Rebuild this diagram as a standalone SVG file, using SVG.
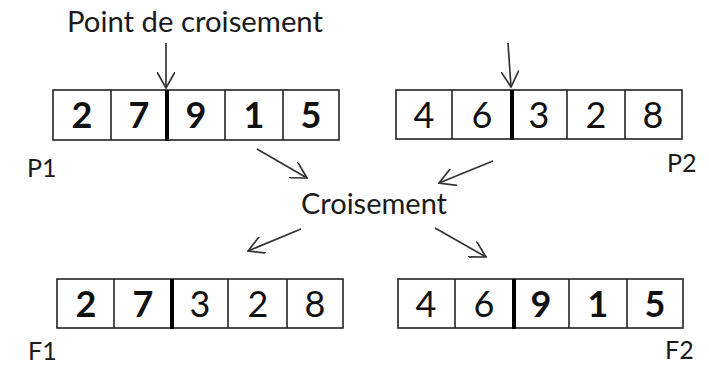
<svg xmlns="http://www.w3.org/2000/svg" width="709" height="366" viewBox="0 0 709 366">
  <style>
    .cell { fill: #ffffff; stroke: #222222; stroke-width: 1.6; }
    .cut { stroke: #000000; stroke-width: 4; }
    .gene { font-family: Lato, "Liberation Sans", sans-serif; font-size: 36px; fill: #111111; text-anchor: middle; }
    .b { font-weight: 700; }
    .lbl { font-family: Lato, "Liberation Sans", sans-serif; font-size: 25px; fill: #1a1a1a; }
    .title { font-family: Lato, "Liberation Sans", sans-serif; font-size: 28px; fill: #1a1a1a; }
    .conn line { stroke: #333333; stroke-width: 1.7; fill: none; marker-end: url(#head); }
  </style>
  <defs>
    <marker id="head" viewBox="0 0 17 18" refX="16" refY="9" markerWidth="17" markerHeight="18" markerUnits="userSpaceOnUse" orient="auto">
      <path d="M0,0 L16,9 L0,18" fill="none" stroke="#333333" stroke-width="1.7"/>
    </marker>
  </defs>

  <rect width="709" height="366" fill="#ffffff"/>

  <!-- annotations -->
  <g id="label-point">
    <text class="title" x="67" y="32" textLength="256" lengthAdjust="spacingAndGlyphs">Point de croisement</text>
  </g>
  <g id="label-croisement">
    <text class="title" x="301" y="214" textLength="146" lengthAdjust="spacingAndGlyphs">Croisement</text>
  </g>

  <!-- parent 1 -->
  <g id="P1">
    <rect class="cell" x="53" y="90" width="286" height="50"/>
    <line class="cell" x1="111" y1="90" x2="111" y2="140"/>
    <line class="cell" x1="225" y1="90" x2="225" y2="140"/>
    <line class="cell" x1="283" y1="90" x2="283" y2="140"/>
    <line class="cut" x1="167" y1="90" x2="167" y2="141"/>
    <text class="gene b" x="82" y="128">2</text>
    <text class="gene b" x="139" y="128">7</text>
    <text class="gene b" x="196" y="128">9</text>
    <text class="gene b" x="254" y="128">1</text>
    <text class="gene b" x="311" y="128">5</text>
    <text class="lbl" x="27" y="177">P1</text>
  </g>

  <!-- parent 2 -->
  <g id="P2">
    <rect class="cell" x="396" y="90" width="286" height="49"/>
    <line class="cell" x1="452" y1="90" x2="452" y2="139"/>
    <line class="cell" x1="567" y1="90" x2="567" y2="139"/>
    <line class="cell" x1="625" y1="90" x2="625" y2="139"/>
    <line class="cut" x1="512" y1="90" x2="512" y2="140"/>
    <text class="gene" x="424" y="128">4</text>
    <text class="gene" x="482" y="128">6</text>
    <text class="gene" x="539" y="128">3</text>
    <text class="gene" x="596" y="128">2</text>
    <text class="gene" x="653" y="128">8</text>
    <text class="lbl" x="667" y="172">P2</text>
  </g>

  <!-- offspring 1 -->
  <g id="F1">
    <rect class="cell" x="57" y="279" width="286" height="49"/>
    <line class="cell" x1="114" y1="279" x2="114" y2="328"/>
    <line class="cell" x1="228" y1="279" x2="228" y2="328"/>
    <line class="cell" x1="287" y1="279" x2="287" y2="328"/>
    <line class="cut" x1="172" y1="279" x2="172" y2="329"/>
    <text class="gene b" x="86" y="317">2</text>
    <text class="gene b" x="143" y="317">7</text>
    <text class="gene" x="200" y="317">3</text>
    <text class="gene" x="258" y="317">2</text>
    <text class="gene" x="315" y="317">8</text>
    <text class="lbl" x="28" y="360">F1</text>
  </g>

  <!-- offspring 2 -->
  <g id="F2">
    <rect class="cell" x="398" y="279" width="285" height="49"/>
    <line class="cell" x1="455" y1="279" x2="455" y2="328"/>
    <line class="cell" x1="569" y1="279" x2="569" y2="328"/>
    <line class="cell" x1="627" y1="279" x2="627" y2="328"/>
    <line class="cut" x1="514" y1="279" x2="514" y2="329"/>
    <text class="gene" x="426" y="317">4</text>
    <text class="gene" x="484" y="317">6</text>
    <text class="gene b" x="541" y="317">9</text>
    <text class="gene b" x="598" y="317">1</text>
    <text class="gene b" x="655" y="317">5</text>
    <text class="lbl" x="665" y="359">F2</text>
  </g>

  <!-- connectors -->
  <g id="connectors" class="conn">
    <line x1="166" y1="43" x2="166" y2="88"/>
    <line x1="508" y1="43" x2="511" y2="87"/>
    <line x1="257" y1="149" x2="307" y2="178"/>
    <line x1="493" y1="161" x2="439" y2="183"/>
    <line x1="301" y1="229" x2="248" y2="251"/>
    <line x1="435" y1="228" x2="486" y2="257"/>
  </g>
</svg>
